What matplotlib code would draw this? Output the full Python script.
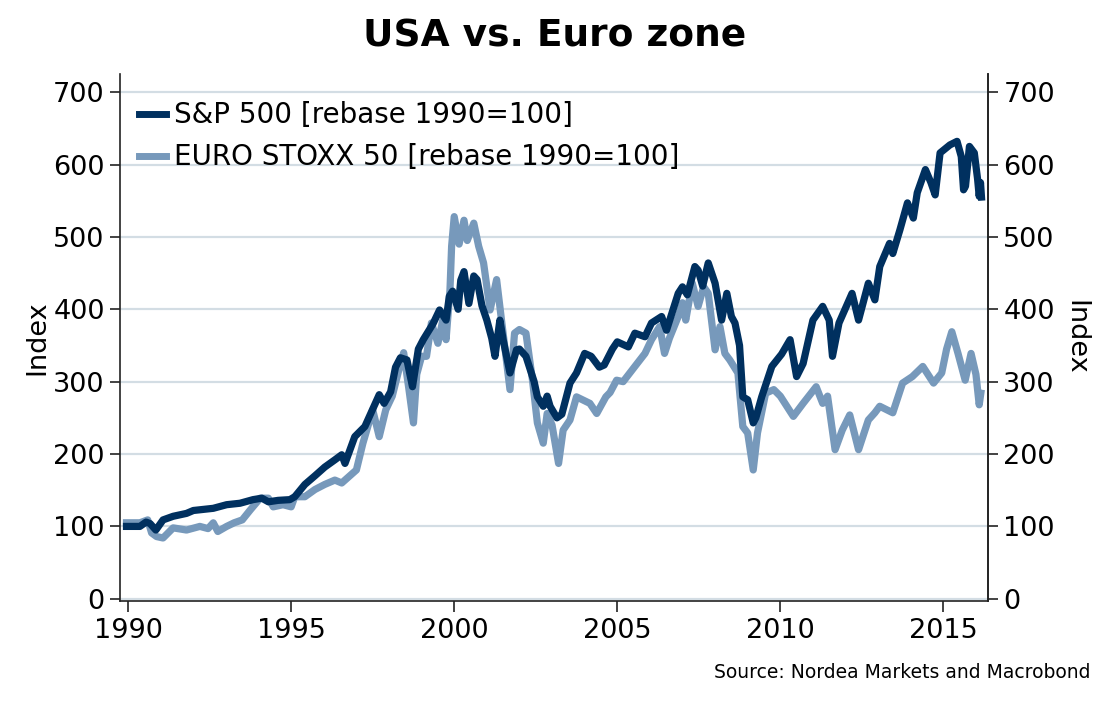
import matplotlib
matplotlib.use("Agg")
import matplotlib.pyplot as plt

# ---------------- data ----------------
sp_years = [1989.95, 1990.36, 1990.55, 1990.67, 1990.85, 1991.07, 1991.38, 1991.79, 1992.0, 1992.2,
            1992.61, 1993.02, 1993.43, 1993.83, 1994.1, 1994.3, 1994.6, 1994.96, 1995.11, 1995.42,
            1995.73, 1996.03, 1996.34, 1996.55, 1996.65, 1996.95, 1997.26, 1997.5, 1997.7, 1997.85,
            1998.05, 1998.2, 1998.35, 1998.55, 1998.72, 1998.9, 1999.05, 1999.35, 1999.55, 1999.75,
            1999.85, 1999.95, 2000.12, 2000.2, 2000.3, 2000.45, 2000.6, 2000.7, 2000.85, 2001.0,
            2001.15, 2001.25, 2001.4, 2001.5, 2001.71, 2001.91, 2002.0, 2002.2, 2002.45, 2002.55,
            2002.73, 2002.85, 2002.94, 2003.15, 2003.3, 2003.55, 2003.75, 2004.0, 2004.2, 2004.45,
            2004.6, 2004.85, 2005.0, 2005.34, 2005.54, 2005.85, 2006.05, 2006.36, 2006.51, 2006.87,
            2007.0, 2007.15, 2007.38, 2007.48, 2007.62, 2007.79, 2008.0, 2008.2, 2008.36, 2008.5,
            2008.61, 2008.75, 2008.85, 2009.0, 2009.17, 2009.25, 2009.43, 2009.74, 2010.04, 2010.3,
            2010.5, 2010.7, 2011.0, 2011.3, 2011.5, 2011.6, 2011.8, 2012.2, 2012.4, 2012.7,
            2012.9, 2013.05, 2013.35, 2013.45, 2013.67, 2013.9, 2014.08, 2014.2, 2014.45, 2014.62,
            2014.75, 2014.9, 2015.2, 2015.42, 2015.55, 2015.62, 2015.68, 2015.8, 2015.95, 2016.05,
            2016.1, 2016.14, 2016.17]
sp_values = [100, 100, 106, 104, 95, 109, 114, 118, 122, 123,
             125, 130, 132, 137, 139, 134, 136, 137, 141, 158,
             170, 182, 192, 199, 187, 224, 238, 262, 282, 270,
             286, 320, 333, 330, 293, 345, 358, 380, 399, 385,
             418, 425, 400, 440, 452, 408, 446, 441, 405, 385,
             360, 335, 385, 358, 312, 344, 345, 335, 300, 279,
             266, 280, 266, 250, 255, 298, 312, 339, 335, 320,
             323, 345, 355, 348, 367, 362, 381, 390, 371, 422,
             431, 420, 459, 454, 432, 464, 436, 385, 422, 390,
             381, 350, 279, 275, 243, 250, 279, 321, 338, 358,
             307, 325, 385, 404, 385, 335, 381, 422, 385, 436,
             413, 459, 491, 477, 510, 547, 526, 561, 593, 575,
             558, 616, 627, 632, 611, 565, 570, 625, 616, 580,
             556, 575, 555]

eu_years = [1989.95, 1990.36, 1990.6, 1990.72, 1990.87, 1991.07, 1991.38, 1991.79, 1992.2, 1992.45,
            1992.61, 1992.75, 1993.02, 1993.25, 1993.5, 1993.75, 1994.05, 1994.3, 1994.45, 1994.75,
            1995.0, 1995.11, 1995.42, 1995.73, 1996.03, 1996.34, 1996.55, 1996.75, 1997.0, 1997.2,
            1997.5, 1997.7, 1997.9, 1998.1, 1998.3, 1998.45, 1998.6, 1998.75, 1998.85, 1999.0,
            1999.15, 1999.3, 1999.5, 1999.65, 1999.75, 1999.87, 1999.92, 2000.0, 2000.15, 2000.3,
            2000.4, 2000.6, 2000.75, 2000.9, 2001.1, 2001.3, 2001.45, 2001.71, 2001.85, 2002.0,
            2002.2, 2002.4, 2002.55, 2002.73, 2002.85, 2003.0, 2003.2, 2003.34, 2003.55, 2003.75,
            2004.16, 2004.37, 2004.65, 2004.78, 2004.98, 2005.18, 2005.54, 2005.85, 2006.05, 2006.3,
            2006.45, 2006.6, 2006.87, 2007.0, 2007.1, 2007.3, 2007.48, 2007.65, 2007.79, 2008.0,
            2008.15, 2008.3, 2008.45, 2008.7, 2008.85, 2009.0, 2009.17, 2009.3, 2009.55, 2009.8,
            2010.0, 2010.4, 2010.7, 2011.1, 2011.3, 2011.45, 2011.68, 2011.9, 2012.13, 2012.4,
            2012.7, 2012.9, 2013.05, 2013.45, 2013.75, 2014.05, 2014.37, 2014.7, 2014.95, 2015.1,
            2015.26, 2015.45, 2015.67, 2015.85, 2016.0, 2016.1, 2016.15]
eu_values = [105, 105, 109, 91, 86, 84, 98, 95, 100, 97,
             105, 93, 100, 105, 109, 123, 139, 139, 127, 130,
             127, 141, 141, 151, 158, 164, 160, 168, 178, 215,
             261, 224, 261, 280, 316, 340, 293, 243, 310, 335,
             335, 381, 353, 385, 358, 427, 487, 528, 490, 523,
             495, 519, 487, 464, 399, 441, 385, 289, 367, 372,
             367, 302, 243, 215, 256, 240, 187, 233, 247, 279,
             270, 256, 279, 285, 302, 300, 321, 339, 358, 376,
             339, 360, 390, 409, 385, 436, 404, 431, 422, 344,
             376, 339, 330, 312, 238, 229, 178, 229, 284, 289,
             280, 252, 270, 293, 270, 280, 206, 233, 254, 206,
             247, 257, 266, 257, 298, 307, 321, 298, 312, 345,
             369, 339, 302, 339, 310, 268, 284]

y_ticks = [0, 100, 200, 300, 400, 500, 600, 700]
x_ticks = [1990, 1995, 2000, 2005, 2010, 2015]

sp_label = "S&P 500 [rebase 1990=100]"
eu_label = "EURO STOXX 50 [rebase 1990=100]"

# ---------------- style ----------------
plt.rcParams['font.family'] = ['DejaVu Sans']
sp_color = "#00305f"
eu_color = "#7799bb"
grid_color = "#d3dde4"
spine_color = "#222222"
fs = 19.5

fig = plt.figure(figsize=(11.09, 7.01), dpi=100)
ax = fig.add_axes([0.1082, 0.1427, 0.7827, 0.7517])

ax.plot(sp_years, sp_values, color=sp_color, lw=5.2, label=sp_label, zorder=3)
ax.plot(eu_years, eu_values, color=eu_color, lw=5.2, label=eu_label, zorder=2)

ax.set_xlim(1989.75, 2016.37)
ax.set_ylim(-3, 725)
ax.set_xticks(x_ticks)
ax.set_yticks(y_ticks)
ax.yaxis.grid(True, color=grid_color, lw=1.6, zorder=0)
ax.set_axisbelow(True)

ax.spines['top'].set_visible(False)
for s in ['left', 'bottom', 'right']:
    ax.spines[s].set_color(spine_color)
    ax.spines[s].set_linewidth(1.2)

ax.tick_params(axis='both', labelsize=fs, length=7, width=1.2, color=spine_color, pad=4)
ax.tick_params(axis='x', length=8, pad=4)
ax.set_ylabel("Index", fontsize=fs, labelpad=2)

ax2 = ax.twinx()
ax2.set_ylim(ax.get_ylim())
ax2.set_yticks(y_ticks)
ax2.spines['top'].set_visible(False)
ax2.spines['right'].set_color(spine_color)
ax2.spines['right'].set_linewidth(1.2)
ax2.spines['left'].set_visible(False)
ax2.spines['bottom'].set_visible(False)
ax2.tick_params(axis='y', labelsize=fs, length=7, width=1.2, color=spine_color, pad=4)
ax2.set_ylabel("Index", fontsize=fs, rotation=270, labelpad=24)

leg = ax.legend(loc='upper left', bbox_to_anchor=(0.0, 0.985), frameon=False, fontsize=20,
                handlelength=0.95, handletextpad=0.3, labelspacing=0.5, borderaxespad=0.3)
for line in leg.get_lines():
    line.set_linewidth(5)

fig.text(0.5, 0.948, "USA vs. Euro zone", ha='center', va='center', fontsize=27, fontweight='bold')
fig.text(0.983, 0.041, "Source: Nordea Markets and Macrobond", ha='right', va='center', fontsize=13.5)

fig.savefig("out.png", dpi=100)
